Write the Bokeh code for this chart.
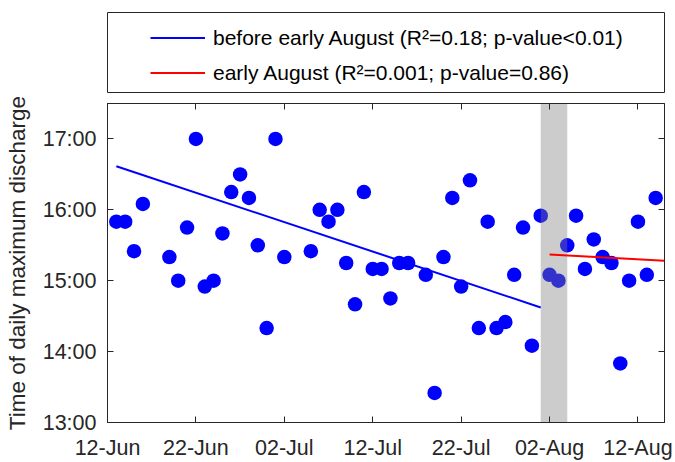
from bokeh.plotting import figure
from bokeh.models import Range1d, LinearAxis, FixedTicker, Legend, LegendItem
from bokeh.layouts import column
from bokeh.embed import file_html
from bokeh.resources import INLINE

# days since 12-Jun
days = [1, 2, 3, 4, 7, 8, 9, 10, 11, 12, 13, 14, 15, 16, 17, 18, 19, 20,
        23, 24, 25, 26, 27, 28, 29, 30, 31, 32, 33, 34, 36, 37, 38, 39, 40,
        41, 42, 43, 44, 45, 46, 47, 48, 49, 50, 51, 52, 53, 54, 55, 56, 57,
        58, 59, 60, 61, 62]
# time of daily maximum discharge (decimal hours)
hours = [15.833, 15.833, 15.417, 16.083, 15.333, 15.0, 15.75, 17.0, 14.917,
         15.0, 15.667, 16.25, 16.5, 16.167, 15.5, 14.333, 17.0, 15.333,
         15.417, 16.0, 15.833, 16.0, 15.25, 14.667, 16.25, 15.167, 15.167,
         14.75, 15.25, 15.25, 15.083, 13.417, 15.333, 16.167, 14.917,
         16.417, 14.333, 15.833, 14.333, 14.417, 15.083, 15.75, 14.083,
         15.917, 15.083, 15.0, 15.5, 15.917, 15.167, 15.583, 15.333, 15.25,
         13.833, 15.0, 15.833, 15.083, 16.167]

tick_days = [0, 10, 20, 30, 40, 50, 60]
tick_labels = ["12-Jun", "22-Jun", "02-Jul", "12-Jul", "22-Jul", "02-Aug", "12-Aug"]
hour_ticks = [13, 14, 15, 16, 17]
hour_labels = ["13:00", "14:00", "15:00", "16:00", "17:00"]

band_days = [49, 52]
before_fit_days = [1, 49]
before_fit_hours = [16.615, 14.623]
early_fit_days = [50, 63]
early_fit_hours = [15.37, 15.28]

label_before = "before early August (R\u00b2=0.18; p-value<0.01)"
label_early = "early August (R\u00b2=0.001; p-value=0.86)"

FONT = "Liberation Sans"
AX = "#262626"
BLUE = "#0000ff"
RED = "#ff0000"

# ---------------- main axes ----------------
p = figure(width=675, height=369, x_range=Range1d(0, 63), y_range=Range1d(13, 17.5),
           output_backend="svg", toolbar_location=None,
           min_border_left=107, min_border_right=11, min_border_top=10, min_border_bottom=39)
p.xgrid.visible = False
p.ygrid.visible = False
p.outline_line_color = AX

p.scatter(days, hours, size=14.5, fill_color=BLUE, line_color=None)
p.quad(left=[band_days[0]], right=[band_days[1]], bottom=[13], top=[17.5],
       fill_color=(128, 128, 128), fill_alpha=0.4, line_color=None)
p.line(before_fit_days, before_fit_hours, line_color=BLUE, line_width=2)
p.line(early_fit_days, early_fit_hours, line_color=RED, line_width=2)


def style(ax):
    ax.axis_line_color = AX
    ax.major_tick_line_color = AX
    ax.major_tick_in = 6
    ax.major_tick_out = 0
    ax.minor_tick_line_color = None
    ax.major_label_text_font = FONT
    ax.major_label_text_font_size = "21.5px"
    ax.major_label_text_color = AX


p.xaxis.ticker = FixedTicker(ticks=tick_days)
p.xaxis.major_label_overrides = {d: l for d, l in zip(tick_days, tick_labels)}
p.yaxis.ticker = FixedTicker(ticks=hour_ticks)
p.yaxis.major_label_overrides = {h: l for h, l in zip(hour_ticks, hour_labels)}
style(p.xaxis[0])
style(p.yaxis[0])
p.xaxis.major_label_standoff = 13
p.yaxis.major_label_standoff = 11
p.yaxis.axis_label = "Time of daily maximum discharge"
p.yaxis.axis_label_text_font = FONT
p.yaxis.axis_label_text_font_size = "22.5px"
p.yaxis.axis_label_text_font_style = "normal"
p.yaxis.axis_label_text_color = AX
p.yaxis.axis_label_standoff = 10

top_ax = LinearAxis(ticker=FixedTicker(ticks=tick_days))
right_ax = LinearAxis(ticker=FixedTicker(ticks=hour_ticks))
for ax in (top_ax, right_ax):
    style(ax)
    ax.major_label_text_font_size = "0px"
    ax.major_label_text_alpha = 0
    ax.major_label_standoff = 0
p.add_layout(top_ax, "above")
p.add_layout(right_ax, "right")

# ---------------- legend box above the axes ----------------
t = figure(width=675, height=93, x_range=Range1d(0, 1), y_range=Range1d(0, 1),
           x_axis_type=None, y_axis_type=None, output_backend="svg", toolbar_location=None,
           min_border_left=107, min_border_right=11, min_border_top=12, min_border_bottom=0)
t.outline_line_color = AX
t.xgrid.visible = False
t.ygrid.visible = False
# legend proxies (a single NaN point, so nothing is drawn in the box itself)
nan = float("nan")
rb = t.line(x=[nan], y=[nan], line_color=BLUE, line_width=2)
rr = t.line(x=[nan], y=[nan], line_color=RED, line_width=2)
legend = Legend(items=[LegendItem(label=label_before, renderers=[rb]),
                       LegendItem(label=label_early, renderers=[rr])],
                location=(43, 3), padding=0, margin=0, spacing=0,
                glyph_width=55, glyph_height=35, label_height=35, label_standoff=8,
                border_line_alpha=0, background_fill_alpha=0,
                label_text_font=FONT, label_text_font_size="21px", label_text_color="black")
t.add_layout(legend)

layout = column(t, p, spacing=0)
open("out.html", "w").write(file_html(layout, INLINE))
